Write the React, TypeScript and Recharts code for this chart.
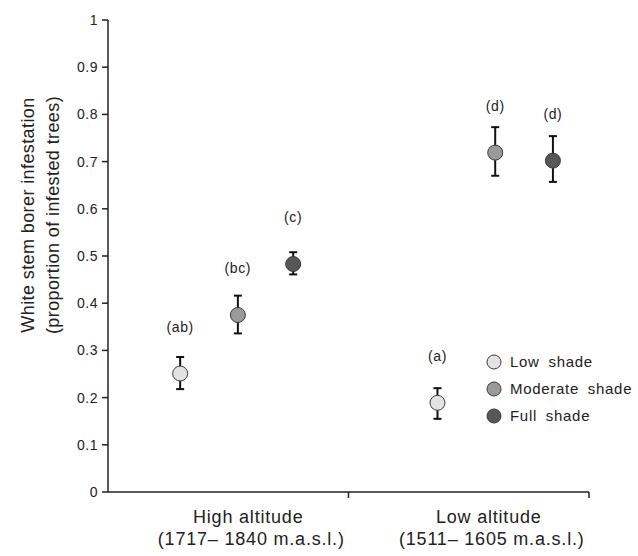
import React from 'react';
import { ScatterChart, Scatter, XAxis, YAxis, ErrorBar, Label } from 'recharts';

const groups = ['High altitude', 'Low altitude'];
const elevations = ['(1717– 1840 m.a.s.l.)', '(1511– 1605 m.a.s.l.)'];
const shades = ['Low shade', 'Moderate shade', 'Full shade'];
const shadeColors = ['#e2e2e2', '#9a9a9a', '#575757'];

// x value of each point on the 0-2 group axis (rows = shade, cols = altitude)
const pointX = [
  [0.3, 1.37],
  [0.54, 1.61],
  [0.77, 1.85],
];
const means = [
  [0.251, 0.189],
  [0.375, 0.719],
  [0.483, 0.702],
];
const lower = [
  [0.218, 0.155],
  [0.336, 0.67],
  [0.461, 0.657],
];
const upper = [
  [0.286, 0.22],
  [0.416, 0.773],
  [0.508, 0.754],
];
const letters = [
  ['(ab)', '(a)'],
  ['(bc)', '(d)'],
  ['(c)', '(d)'],
];

const yTicks = [0, 0.1, 0.2, 0.3, 0.4, 0.5, 0.6, 0.7, 0.8, 0.9, 1];
const xTicks = [0.5, 1, 1.5, 2];

const FONT = '"Liberation Sans", Arial, Helvetica, sans-serif';
const INK = '#222';

const series = shades.map((name, i) => ({
  name,
  color: shadeColors[i],
  data: groups.map((g, j) => ({
    x: pointX[i][j],
    y: means[i][j],
    err: [+(means[i][j] - lower[i][j]).toFixed(3), +(upper[i][j] - means[i][j]).toFixed(3)],
    letter: letters[i][j],
  })),
}));

const makeShape = (color: string) => (props: any) => {
  const { cx, cy, payload } = props;
  return (
    <g>
      <circle cx={cx} cy={cy} r={7.5} fill={color} stroke="#3a3a3a" strokeWidth={1} />
      <text
        x={cx}
        y={cy - 42}
        textAnchor="middle"
        fontFamily={FONT}
        fontSize={14}
        letterSpacing={0.6}
        fill={INK}
      >
        {payload.letter}
      </text>
    </g>
  );
};

const GroupTick = (props: any) => {
  const { x, y, payload } = props;
  const v = payload.value;
  if (Number.isInteger(v)) {
    return <line x1={x} y1={y} x2={x} y2={y + 6} stroke={INK} strokeWidth={1.5} />;
  }
  const idx = Math.floor(v);
  return (
    <g fontFamily={FONT} fontSize={18} fill={INK} letterSpacing={0.8}>
      <text x={x + 20} y={y + 31} textAnchor="middle">{groups[idx]}</text>
      <text x={x + 23} y={y + 53} textAnchor="middle">{elevations[idx]}</text>
    </g>
  );
};

const YTitle = (props: any) => {
  const vb = props.viewBox || { x: 0, y: 20, width: 108, height: 472 };
  const cy = vb.y + vb.height / 2 - 41;
  return (
    <g fontFamily={FONT} fontSize={18} fill={INK} letterSpacing={0.4}>
      <text x={28} y={cy} textAnchor="middle" dominantBaseline="central" transform={`rotate(-90 28 ${cy})`}>
        White stem borer infestation
      </text>
      <text x={53} y={cy} textAnchor="middle" dominantBaseline="central" transform={`rotate(-90 53 ${cy})`}>
        (proportion of infested trees)
      </text>
    </g>
  );
};

const ShadeLegend = () => (
  <div
    style={{
      position: 'absolute',
      left: 486,
      top: 348,
      fontFamily: FONT,
      fontSize: 15,
      color: INK,
      letterSpacing: 0.7,
      wordSpacing: 4,
    }}
  >
    {shades.map((s, i) => (
      <div key={s} style={{ display: 'flex', alignItems: 'center', height: 27 }}>
        <svg width={16} height={16} style={{ marginRight: 8 }}>
          <circle cx={8} cy={8} r={7} fill={shadeColors[i]} stroke="#3a3a3a" strokeWidth={1} />
        </svg>
        <span>{s}</span>
      </div>
    ))}
  </div>
);

export default function App() {
  return (
    <div style={{ position: 'absolute', left: 0, top: 0, width: 638, height: 556, background: '#fff' }}>
      <ScatterChart width={638} height={556} margin={{ top: 20, right: 49, bottom: 0, left: 0 }}>
        <XAxis
          type="number"
          dataKey="x"
          domain={[0, 2]}
          ticks={xTicks}
          interval={0}
          height={64}
          tickLine={false}
          tickSize={0}
          tickMargin={0}
          axisLine={{ stroke: INK, strokeWidth: 1.5 }}
          tick={<GroupTick />}
        />
        <YAxis
          type="number"
          dataKey="y"
          domain={[0, 1]}
          ticks={yTicks}
          interval={0}
          width={108}
          tickSize={6}
          tickMargin={4}
          axisLine={{ stroke: INK, strokeWidth: 1.5 }}
          tickLine={{ stroke: INK, strokeWidth: 1.5 }}
          tick={{ fontFamily: FONT, fontSize: 14, fill: INK, letterSpacing: 0.5 }}
          tickFormatter={(v: number) => String(v)}
        >
          <Label content={<YTitle />} />
        </YAxis>
        {series.map((s) => (
          <Scatter
            key={s.name}
            name={s.name}
            data={s.data}
            fill={s.color}
            isAnimationActive={false}
            shape={makeShape(s.color)}
          >
            <ErrorBar dataKey="err" direction="y" width={4} stroke="#111" strokeWidth={2} />
          </Scatter>
        ))}
      </ScatterChart>
      <ShadeLegend />
    </div>
  );
}
